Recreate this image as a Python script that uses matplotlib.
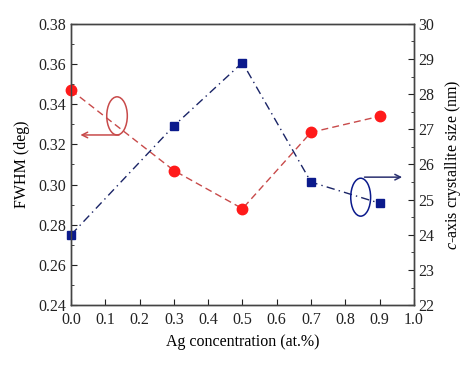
import matplotlib.pyplot as plt
from matplotlib.patches import Ellipse
from matplotlib.ticker import MultipleLocator

plt.rcParams['font.family'] = ['Liberation Serif', 'DejaVu Serif']
plt.rcParams['mathtext.fontset'] = 'custom'
plt.rcParams['mathtext.it'] = 'Liberation Serif:italic'
plt.rcParams['mathtext.rm'] = 'Liberation Serif'

# data
ag = [0.0, 0.3, 0.5, 0.7, 0.9]
fwhm = [0.347, 0.307, 0.288, 0.326, 0.334]
csize = [24.0, 27.1, 28.9, 25.5, 24.9]

red = '#ff1a1a'
redline = '#c84a4a'
navy = '#0b1a8c'
navyline = '#1a2466'

fig = plt.figure(figsize=(4.74, 3.68), dpi=100)
ax = fig.add_axes([0.150, 0.171, 0.723, 0.764])
ax2 = ax.twinx()

ax.plot(ag, fwhm, ls=(0, (5, 3)), color=redline, lw=1.0, zorder=3)
ax.plot(ag, fwhm, ls='none', marker='o', ms=7.5, color=red, zorder=4, clip_on=False)
ax2.plot(ag, csize, ls=(0, (6, 3, 1, 3)), color=navyline, lw=1.0)
ax2.plot(ag, csize, ls='none', marker='s', ms=5.5, color=navy, clip_on=False)

ax.set_xlim(0, 1.0)
ax.set_ylim(0.24, 0.38)
ax2.set_ylim(22, 30)
ax.xaxis.set_major_locator(MultipleLocator(0.1))
ax.yaxis.set_major_locator(MultipleLocator(0.02))
ax.yaxis.set_minor_locator(MultipleLocator(0.01))
ax2.yaxis.set_major_locator(MultipleLocator(1))
ax2.yaxis.set_minor_locator(MultipleLocator(0.5))

ax.xaxis.set_major_formatter(plt.FormatStrFormatter('%.1f'))
ax.yaxis.set_major_formatter(plt.FormatStrFormatter('%.2f'))

fs = 11.5
for a in (ax, ax2):
    a.tick_params(which='both', direction='in', labelsize=fs, colors='#222222')
    a.tick_params(which='major', length=4)
    a.tick_params(which='minor', length=2.5)
    for s in a.spines.values():
        s.set_color('#444444')
        s.set_linewidth(1.0)
ax.tick_params(axis='x', top=False, pad=5)
ax.tick_params(axis='y', right=False)

ax.set_xlabel('Ag concentration (at.%)', fontsize=fs)
ax.set_ylabel('FWHM (deg)', fontsize=fs, labelpad=6)
ax2.set_ylabel(r'$c$-axis crystallite size (nm)', fontsize=fs, labelpad=6)

# ellipse + arrow annotations
ax.add_patch(Ellipse((0.134, 0.3342), 0.06, 0.019, fill=False, ec=redline, lw=1.1, zorder=5))
ax.annotate('', xy=(0.019, 0.3247), xytext=(0.148, 0.3247),
            arrowprops=dict(arrowstyle='->', color=redline, lw=1.1))
ax2.add_patch(Ellipse((0.845, 25.07), 0.058, 1.08, fill=False, ec=navy, lw=1.1, zorder=5))
ax2.annotate('', xy=(0.974, 25.64), xytext=(0.848, 25.64),
             arrowprops=dict(arrowstyle='->', color='#2a3070', lw=1.1))

fig.savefig('out.png', dpi=100)
